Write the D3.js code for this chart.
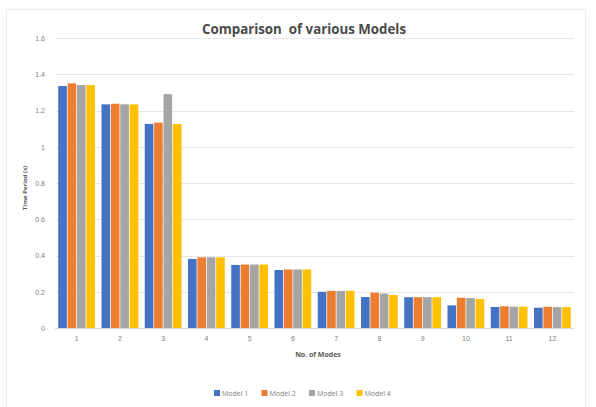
<!DOCTYPE html>
<html>
<head>
<meta charset="utf-8">
<script src="https://cdn.jsdelivr.net/npm/d3@7"></script>
<style>
  html, body { margin: 0; padding: 0; background: #fff; }
  svg { display: block; font-family: "Open Sans", "Noto Sans", sans-serif; }
</style>
</head>
<body>
<svg id="chart" width="596" height="407"></svg>
<script>
// Number of modes along the x axis
const modes = ["1", "2", "3", "4", "5", "6", "7", "8", "9", "10", "11", "12"];
const seriesNames = ["Model 1", "Model 2", "Model 3", "Model 4"];
const seriesColors = ["#4472c4", "#ed7d31", "#a5a5a5", "#ffc000"];

// Time period (s) per mode, for each model
const model1 = [1.335, 1.234, 1.126, 0.381, 0.348, 0.32, 0.2, 0.171, 0.17, 0.125, 0.116, 0.112];
const model2 = [1.35, 1.237, 1.133, 0.39, 0.35, 0.323, 0.205, 0.195, 0.17, 0.167, 0.12, 0.117];
const model3 = [1.34, 1.234, 1.29, 0.39, 0.35, 0.323, 0.205, 0.19, 0.17, 0.165, 0.118, 0.115];
const model4 = [1.34, 1.234, 1.126, 0.39, 0.35, 0.323, 0.205, 0.182, 0.17, 0.16, 0.118, 0.115];
const seriesValues = [model1, model2, model3, model4];

const yTicks = [0, 0.2, 0.4, 0.6, 0.8, 1, 1.2, 1.4, 1.6];

const svg = d3.select("#chart");

// Faint chart frame
svg.append("rect")
  .attr("x", 6.5).attr("y", 9.5)
  .attr("width", 579).attr("height", 400)
  .attr("fill", "none")
  .attr("stroke", "#ececec")
  .attr("stroke-width", 1);

const margin = { left: 55, right: 22, top: 38, bottom: 79 };
const W = 596, H = 407;

const x0 = d3.scaleBand()
  .domain(modes)
  .range([margin.left, W - margin.right])
  .paddingInner(0.15)
  .paddingOuter(0.075);

const x1 = d3.scaleBand()
  .domain(seriesNames)
  .range([0, x0.bandwidth()])
  .paddingInner(0.08);

const y = d3.scaleLinear()
  .domain([0, 1.6])
  .range([H - margin.bottom, margin.top]);

// Horizontal gridlines
svg.append("g")
  .selectAll("line")
  .data(yTicks)
  .join("line")
  .attr("x1", margin.left)
  .attr("x2", W - margin.right)
  .attr("y1", d => Math.round(y(d)) + 0.5)
  .attr("y2", d => Math.round(y(d)) + 0.5)
  .attr("stroke", "#e6e6e6")
  .attr("stroke-width", 1);

// Y axis labels
const yAxis = d3.axisLeft(y).tickValues(yTicks).tickSize(0).tickPadding(10)
  .tickFormat(d => String(d));
svg.append("g")
  .attr("transform", `translate(${margin.left},0)`)
  .call(yAxis)
  .call(g => g.select(".domain").remove())
  .selectAll("text")
  .attr("fill", "#808080")
  .style("font-size", "7px");

// X axis labels
const xAxis = d3.axisBottom(x0).tickSize(0).tickPadding(8);
svg.append("g")
  .attr("transform", `translate(0,${H - margin.bottom})`)
  .call(xAxis)
  .call(g => g.select(".domain")
    .attr("stroke", "#d9d9d9")
    .attr("d", `M${margin.left},0.5H${W - margin.right}`))
  .selectAll("text")
  .attr("fill", "#808080")
  .style("font-size", "7px");

// Bars
const groups = svg.append("g")
  .selectAll("g")
  .data(modes)
  .join("g")
  .attr("transform", d => `translate(${x0(d)},0)`);

groups.selectAll("rect")
  .data((m, i) => seriesNames.map((s, k) => ({ s, k, v: seriesValues[k][i] })))
  .join("rect")
  .attr("x", d => x1(d.s))
  .attr("width", x1.bandwidth())
  .attr("y", d => y(d.v))
  .attr("height", d => y(0) - y(d.v))
  .attr("fill", d => seriesColors[d.k]);

// Title
svg.append("text")
  .attr("x", 304)
  .attr("y", 34)
  .attr("text-anchor", "middle")
  .attr("fill", "#4a4a4a")
  .style("font-size", "13.3px")
  .style("font-weight", "bold")
  .attr("xml:space", "preserve")
  .text("Comparison  of various Models");

// Axis titles
svg.append("text")
  .attr("transform", `translate(27,${(y(0) + y(1.6)) / 2 + 5}) rotate(-90)`)
  .attr("text-anchor", "middle")
  .attr("fill", "#595959")
  .style("font-size", "6px")
  .style("font-weight", "bold")
  .text("Time Period (s)");

svg.append("text")
  .attr("x", 318)
  .attr("y", 357)
  .attr("text-anchor", "middle")
  .attr("fill", "#595959")
  .style("font-size", "7px")
  .style("font-weight", "bold")
  .text("No. of Modes");

// Legend
const legend = svg.append("g")
  .attr("transform", "translate(214,395)");
const item = legend.selectAll("g")
  .data(seriesNames)
  .join("g")
  .attr("transform", (d, i) => `translate(${i * 47.5},0)`);
item.append("rect")
  .attr("x", 0).attr("y", -5)
  .attr("width", 6).attr("height", 6)
  .attr("fill", (d, i) => seriesColors[i]);
item.append("text")
  .attr("x", 8)
  .attr("y", 1)
  .attr("fill", "#808080")
  .style("font-size", "7px")
  .text(d => d);
</script>
</body>
</html>
